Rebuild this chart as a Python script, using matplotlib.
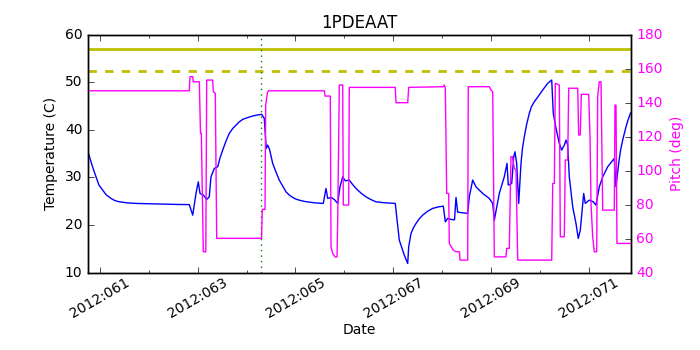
import matplotlib
matplotlib.use("Agg")
import matplotlib.pyplot as plt
from matplotlib.ticker import MultipleLocator, FuncFormatter

# ---- data (day of year 2012) ----
temp_day = [60.752, 60.834, 60.916, 60.977, 61.053, 61.121, 61.223, 61.305, 61.393, 61.551,
            61.735, 62.554, 62.826, 62.896, 62.963, 63.010, 63.045, 63.113, 63.182, 63.235,
            63.270, 63.338, 63.407, 63.454, 63.510, 63.577, 63.645, 63.714, 63.782, 63.843,
            63.919, 64.022, 64.124, 64.212, 64.308, 64.361, 64.400, 64.430, 64.469, 64.533,
            64.601, 64.668, 64.738, 64.806, 64.873, 64.943, 65.010, 65.078, 65.174, 65.283,
            65.420, 65.569, 65.624, 65.659, 65.727, 65.794, 65.864, 65.911, 65.966, 66.019,
            66.101, 66.171, 66.239, 66.341, 66.443, 66.546, 66.648, 66.832, 67.043, 67.072,
            67.125, 67.227, 67.297, 67.317, 67.364, 67.415, 67.467, 67.528, 67.604, 67.702,
            67.809, 67.917, 68.026, 68.067, 68.116, 68.183, 68.255, 68.286, 68.320, 68.525,
            68.558, 68.627, 68.695, 68.832, 68.967, 69.037, 69.070, 69.172, 69.274, 69.330,
            69.356, 69.426, 69.467, 69.493, 69.528, 69.569, 69.616, 69.647, 69.684, 69.729,
            69.786, 69.831, 69.888, 69.964, 70.060, 70.163, 70.245, 70.277, 70.333, 70.400,
            70.449, 70.503, 70.537, 70.572, 70.605, 70.675, 70.742, 70.789, 70.830, 70.900,
            70.932, 71.014, 71.096, 71.151, 71.219, 71.289, 71.391, 71.526, 71.561, 71.616,
            71.653, 71.698, 71.766, 71.807, 71.858]
temp_val = [35.40, 32.60, 30.14, 28.40, 27.35, 26.40, 25.60, 25.14, 24.89, 24.68,
            24.55, 24.34, 24.30, 22.09, 26.65, 29.09, 26.65, 26.30, 25.39, 25.94,
            30.14, 31.91, 32.25, 34.07, 35.76, 37.65, 39.27, 40.28, 41.01, 41.64,
            42.21, 42.59, 42.91, 43.12, 43.26, 42.42, 36.10, 36.80, 35.90, 32.96,
            31.13, 29.45, 28.19, 26.99, 26.30, 25.81, 25.45, 25.24, 24.99, 24.82,
            24.65, 24.55, 27.70, 25.60, 25.81, 25.39, 24.55, 28.04, 30.14, 29.30,
            29.45, 28.50, 27.70, 26.72, 25.94, 25.35, 24.89, 24.68, 24.55, 21.73,
            16.83, 13.68, 11.93, 15.42, 18.24, 19.46, 20.34, 21.25, 22.09, 22.89,
            23.50, 23.81, 23.98, 20.68, 21.40, 21.19, 21.10, 25.81, 22.72, 22.45,
            25.94, 29.45, 28.04, 26.65, 25.60, 24.55, 21.04, 26.65, 30.14, 32.96,
            28.40, 28.75, 34.35, 35.40, 32.96, 24.55, 32.96, 36.18, 38.55, 41.01,
            43.47, 44.90, 45.91, 46.96, 48.37, 49.78, 50.48, 43.47, 40.32, 37.17,
            35.76, 36.81, 37.86, 36.81, 30.14, 23.84, 20.34, 17.19, 18.94, 26.65,
            24.55, 25.24, 24.89, 24.19, 28.04, 30.14, 32.25, 34.01, 28.04, 32.96,
            35.65, 37.86, 40.66, 42.06, 43.54]

pitch_day = [60.752, 62.826, 62.840, 62.896, 62.908, 63.031, 63.055, 63.072, 63.113, 63.164,
             63.182, 63.305, 63.317, 63.358, 63.387, 64.304, 64.321, 64.376, 64.390, 64.423,
             64.443, 65.590, 65.604, 65.712, 65.727, 65.762, 65.809, 65.850, 65.864, 65.897,
             65.966, 65.979, 66.089, 66.101, 67.043, 67.057, 67.297, 67.317, 68.026, 68.046,
             68.067, 68.095, 68.136, 68.149, 68.230, 68.286, 68.357, 68.368, 68.525, 68.537,
             68.967, 69.002, 69.037, 69.070, 69.309, 69.323, 69.377, 69.411, 69.442, 69.479,
             69.514, 69.549, 70.245, 70.266, 70.299, 70.319, 70.400, 70.421, 70.503, 70.523,
             70.572, 70.593, 70.777, 70.797, 70.830, 70.851, 71.002, 71.029, 71.050, 71.084,
             71.117, 71.166, 71.186, 71.219, 71.254, 71.289, 71.526, 71.540, 71.561, 71.581,
             71.858]
pitch_val = [147.0, 147.0, 155.3, 155.3, 152.3, 152.3, 122.0, 122.0, 52.3, 52.3,
             153.3, 153.3, 146.5, 145.5, 60.2, 60.2, 77.2, 77.2, 138.6, 145.5,
             147.0, 147.0, 143.9, 143.9, 55.2, 51.3, 49.3, 49.3, 70.9, 150.4,
             150.4, 79.8, 79.8, 149.0, 149.0, 140.0, 140.0, 149.0, 149.4, 150.4,
             148.5, 86.65, 86.65, 57.2, 53.3, 52.3, 52.3, 47.4, 47.4, 149.4,
             149.4, 147.4, 146.5, 49.3, 49.3, 54.3, 54.3, 108.2, 108.2, 101.4,
             100.4, 47.4, 47.4, 92.5, 92.5, 151.4, 150.4, 61.1, 61.1, 106.3,
             106.3, 148.5, 148.5, 121.0, 121.0, 144.9, 144.9, 120.0, 80.0, 61.1,
             52.3, 52.3, 143.5, 152.3, 152.3, 76.8, 76.8, 138.6, 138.6, 57.2,
             57.2]

limit_planning = 57.0
limit_caution = 52.3
marker_day = 64.294

x_range = (60.752, 71.862)
temp_range = (10, 60)
pitch_range = (40, 180)

plt.style.use('classic')
plt.rcParams['font.size'] = 10
plt.rcParams['font.family'] = ['DejaVu Sans']

fig = plt.figure(figsize=(7, 3.5), dpi=100, facecolor='white')
ax1 = fig.add_axes([0.1257, 0.2209, 0.7753, 0.68])

ax1.axhline(limit_planning, color='y', lw=2, ls='-')
ax1.axhline(limit_caution, color='y', lw=2, ls='--')
ax1.axvline(marker_day, color='g', lw=1, ls=':')
ax1.plot(temp_day, temp_val, color='b', lw=1)
ax1.set_xlim(*x_range)
ax1.set_ylim(*temp_range)
ax1.set_ylabel('Temperature (C)')
ax1.set_xlabel('Date', labelpad=2)
ax1.set_title('1PDEAAT', fontsize=12)

ax1.xaxis.set_major_locator(MultipleLocator(2, offset=1))
ax1.xaxis.set_minor_locator(MultipleLocator(1))
ax1.xaxis.set_major_formatter(FuncFormatter(lambda v, p: '2012:%03d' % int(round(v))))
ax1.tick_params(axis='x', which='major', pad=2)
for lab in ax1.get_xticklabels():
    lab.set_rotation(30)
    lab.set_ha('center')

ax2 = ax1.twinx()
ax2.plot(pitch_day, pitch_val, color='#ff00ff', lw=1)
ax2.set_ylim(*pitch_range)
ax2.set_xlim(*x_range)
ax2.set_ylabel('Pitch (deg)', color='#ff00ff')
for lab in ax2.get_yticklabels():
    lab.set_color('#ff00ff')

fig.savefig('out.png', dpi=100, facecolor='white')
